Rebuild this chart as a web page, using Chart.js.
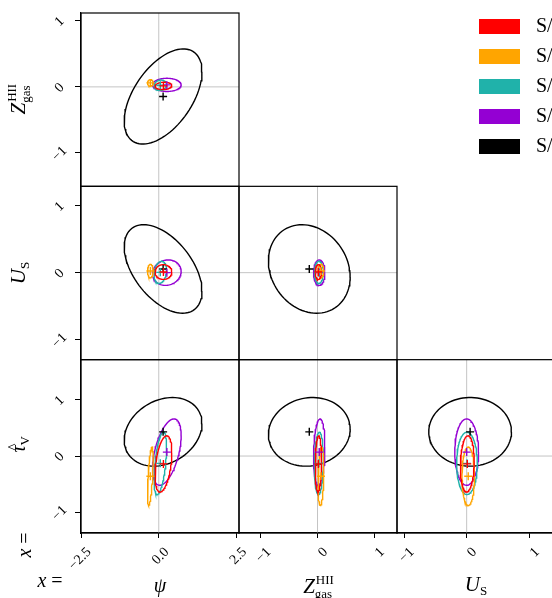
<!DOCTYPE html>
<html>
<head>
<meta charset="utf-8">
<script src="https://cdn.jsdelivr.net/npm/chart.js@4.4.1/dist/chart.umd.min.js"></script>
<style>
html, body { margin: 0; padding: 0; background: #fff; overflow: hidden; }
#wrap { position: relative; width: 552px; height: 598px; overflow: hidden; }
</style>
</head>
<body>
<div id="wrap"><canvas id="corner" width="640" height="598"></canvas></div>
<script>
const SERIF = '"Liberation Serif", "DejaVu Serif", serif'

// parameters, in the order used by the mean / sd arrays
const paramNames = ["psi", "Z_gas", "U_S", "tau_V"]
const seriesNames = ["S/N = 100", "S/N = 50", "S/N = 20", "S/N = 10", "S/N = 5"]
const seriesColors = ["#ff0000", "#ffa500", "#20b2aa", "#9400d3", "#000000"]

// centres [psi, Z, U, tau]
const redMean = [0.15, 0.015, 0.01, -0.14]
const orangeMean = [-0.27, 0.06, 0.025, -0.36]
const tealMean = [0.05, 0.025, 0.005, -0.13]
const purpleMean = [0.26, 0.03, 0.0, 0.07]
const blackMean = [0.14, -0.145, 0.055, 0.43]

// 1-sigma widths [psi, Z, U, tau]
const redSd = [0.27, 0.055, 0.11, 0.5]
const orangeSd = [0.09, 0.05, 0.1, 0.52]
const tealSd = [0.2, 0.078, 0.165, 0.555]
const purpleSd = [0.46, 0.1, 0.19, 0.59]
const blackSd = [1.25, 0.72, 0.66, 0.61]

// correlations [psi-Z, psi-U, Z-U, psi-tau, Z-tau, U-tau]
const redCorr = [0.1, 0.0, 0.0, 0.4, 0.1, 0.1]
const orangeCorr = [0.0, 0.0, 0.0, 0.6, 0.2, 0.0]
const tealCorr = [0.1, 0.2, 0.0, 0.5, 0.1, 0.0]
const purpleCorr = [0.0, 0.1, 0.0, 0.5, 0.15, 0.0]
const blackCorr = [0.52, -0.5, -0.18, 0.24, 0.08, 0.0]

// panels: [x param, y param], same order as the correlation arrays
const panelPairs = [[0, 1], [0, 2], [1, 2], [0, 3], [1, 3], [2, 3]]

// axis limits and ticks
const psiRange = [-2.5, 2.58]
const zRangeX = [-1.383, 1.40]
const uRangeX = [-1.112, 1.41]
const zRangeY = [-1.505, 1.118]
const uRangeY = [-1.297, 1.287]
const tauRangeY = [-1.368, 1.713]
const psiTicks = [-2.5, 0, 2.5]
const unitTicks = [-1, 0, 1]

const means = [redMean, orangeMean, tealMean, purpleMean, blackMean]
const sds = [redSd, orangeSd, tealSd, purpleSd, blackSd]
const corrs = [redCorr, orangeCorr, tealCorr, purpleCorr, blackCorr]

function ellipse(mean, sd, corr, i, j, k) {
    var r = corr[k]
    var pts = []
    for (var a = 0; a <= 90; a++) {
        var t = a / 90 * 2 * Math.PI
        pts.push({
            x: mean[i] + sd[i] * Math.cos(t),
            y: mean[j] + sd[j] * (r * Math.cos(t) + Math.sqrt(1 - r * r) * Math.sin(t))
        })
    }
    return pts
}

var datasets = []
seriesNames.forEach(function (name, s) {
    panelPairs.forEach(function (pair, k) {
        datasets.push({
            label: name,
            data: ellipse(means[s], sds[s], corrs[s], pair[0], pair[1], k),
            xAxisID: "x" + pair[0],
            yAxisID: "y" + pair[1],
            showLine: true,
            borderColor: seriesColors[s],
            borderWidth: 1.4,
            pointRadius: 0,
            fill: false
        })
        datasets.push({
            label: name,
            data: [{ x: means[s][pair[0]], y: means[s][pair[1]] }],
            xAxisID: "x" + pair[0],
            yAxisID: "y" + pair[1],
            pointStyle: "cross",
            pointRadius: 4,
            borderWidth: 1.4,
            borderColor: seriesColors[s],
            order: -1
        })
    })
})

function fmt(v) {
    return (v < 0 ? "\u2212" : "") + Math.abs(v)
}

function xScale(range, ticks, cb) {
    return {
        type: "linear", axis: "x", position: "bottom", stack: "cols",
        min: range[0], max: range[1],
        afterBuildTicks: function (sc) { sc.ticks = ticks.map(function (v) { return { value: v } }) },
        afterFit: function (sc) { sc.height = 65; sc.paddingLeft = 0; sc.paddingRight = 0 },
        grid: { drawOnChartArea: false, drawTicks: true, tickLength: 5, color: "#000", lineWidth: 1 },
        border: { display: true, color: "#000", width: 1.2 },
        ticks: {
            autoSkip: false, minRotation: 45, maxRotation: 45, padding: 6, labelOffset: 8,
            color: "#000", font: { family: SERIF, size: 14 }, callback: cb
        }
    }
}

function yScale(range) {
    return {
        type: "linear", axis: "y", position: "left", stack: "rows",
        min: range[0], max: range[1],
        afterBuildTicks: function (sc) { sc.ticks = unitTicks.map(function (v) { return { value: v } }) },
        afterFit: function (sc) { sc.width = 81; sc.paddingTop = 0; sc.paddingBottom = 0 },
        grid: { drawOnChartArea: false, drawTicks: true, tickLength: 6, color: "#000", lineWidth: 1 },
        border: { display: true, color: "#000", width: 1.2 },
        ticks: {
            autoSkip: false, minRotation: 45, maxRotation: 45, padding: 8, crossAlign: "center", labelOffset: 1,
            color: "#000", font: { family: SERIF, size: 14 }, callback: fmt
        }
    }
}

// draw a label made of pieces (italic letter, sub/superscripts)
function drawMath(ctx, x, y, rot, parts) {
    ctx.save()
    ctx.translate(x, y)
    ctx.rotate(rot)
    ctx.textBaseline = "alphabetic"
    ctx.textAlign = "left"
    ctx.fillStyle = "#000"
    var widths = parts.map(function (p) { ctx.font = p.f; return ctx.measureText(p.t).width })
    var total = 0, hold = 0
    parts.forEach(function (p, k) {
        if (p.stack) hold = widths[k]
        else { total += Math.max(widths[k], hold); hold = 0 }
    })
    var cx = -total / 2
    hold = 0
    parts.forEach(function (p, k) {
        ctx.font = p.f
        ctx.fillText(p.t, cx + (p.dx || 0), p.dy || 0)
        if (p.stack) hold = widths[k]
        else { cx += Math.max(widths[k], hold); hold = 0 }
    })
    ctx.restore()
}

const IT = "italic 20px " + SERIF
const RM = "20px " + SERIF
const SM = "13px " + SERIF
const zLabel = [{ t: "Z", f: "italic 21px " + SERIF }, { t: "HII", f: SM, dy: -9, dx: 1, stack: true }, { t: "gas", f: SM, dy: 5 }]
const uLabel = [{ t: "U", f: "italic 21px " + SERIF }, { t: "S", f: SM, dy: 4 }]
const tauLabel = [{ t: "^", f: "15px " + SERIF, dx: 2, dy: -7, stack: true }, { t: "\u03c4", f: IT }, { t: "V", f: SM, dy: 4 }]
const psiLabel = [{ t: "\u03c8", f: IT }]

const cornerPlugin = {
    id: "corner",
    beforeDatasetsDraw: function (chart) {
        var ctx = chart.ctx
        ctx.save()
        ctx.strokeStyle = "#c4c4c4"
        ctx.lineWidth = 1
        panelPairs.forEach(function (pair) {
            var xs = chart.scales["x" + pair[0]], ys = chart.scales["y" + pair[1]]
            var px = xs.getPixelForValue(0), py = ys.getPixelForValue(0)
            ctx.beginPath()
            ctx.moveTo(px, ys.top); ctx.lineTo(px, ys.bottom)
            ctx.moveTo(xs.left, py); ctx.lineTo(xs.right, py)
            ctx.stroke()
        })
        ctx.restore()
    },
    afterDraw: function (chart) {
        var ctx = chart.ctx
        ctx.save()
        ctx.strokeStyle = "#000"
        ctx.lineWidth = 1.2
        panelPairs.forEach(function (pair) {
            var xs = chart.scales["x" + pair[0]], ys = chart.scales["y" + pair[1]]
            ctx.strokeRect(xs.left, ys.top, xs.right - xs.left, ys.bottom - ys.top)
        })
        ctx.restore()

        var cx = function (id) { var s = chart.scales[id]; return (s.left + s.right) / 2 }
        var cy = function (id) { var s = chart.scales[id]; return (s.top + s.bottom) / 2 }
        drawMath(ctx, cx("x0"), 592, 0, psiLabel)
        drawMath(ctx, cx("x1"), 593, 0, zLabel)
        drawMath(ctx, cx("x2"), 591, 0, uLabel)
        drawMath(ctx, 25, cy("y1"), -Math.PI / 2, zLabel)
        drawMath(ctx, 25, cy("y2"), -Math.PI / 2, uLabel)
        drawMath(ctx, 25, cy("y3") - 2, -Math.PI / 2, tauLabel)
        drawMath(ctx, 31, 545, -Math.PI / 2, [{ t: "x", f: IT }, { t: " =", f: RM }])
        drawMath(ctx, 50, 587, 0, [{ t: "x", f: IT }, { t: " =", f: RM }])

        // legend
        ctx.save()
        ctx.font = "20px " + SERIF
        ctx.textBaseline = "middle"
        ctx.textAlign = "left"
        seriesNames.forEach(function (name, s) {
            var top = 19 + s * 30
            ctx.fillStyle = seriesColors[s]
            ctx.fillRect(479, top, 41, 15)
            ctx.fillStyle = "#000"
            ctx.fillText(name, 536, top + 8)
        })
        ctx.restore()
    }
}

var chart = new Chart(document.getElementById("corner").getContext("2d"), {
    type: "scatter",
    data: { datasets: datasets },
    options: {
        responsive: false,
        animation: false,
        events: [],
        layout: { padding: { top: 13, left: 0, right: 85, bottom: 0 } },
        plugins: { legend: { display: false }, tooltip: { enabled: false } },
        scales: {
            x0: xScale(psiRange, psiTicks, function (v) { return v === 0 ? "0.0" : (v < 0 ? "\u2212" : "") + Math.abs(v).toFixed(1) }),
            x1: xScale(zRangeX, unitTicks, fmt),
            x2: xScale(uRangeX, unitTicks, fmt),
            y3: yScale(tauRangeY),
            y2: yScale(uRangeY),
            y1: yScale(zRangeY)
        }
    },
    plugins: [cornerPlugin]
})
</script>
</body>
</html>
